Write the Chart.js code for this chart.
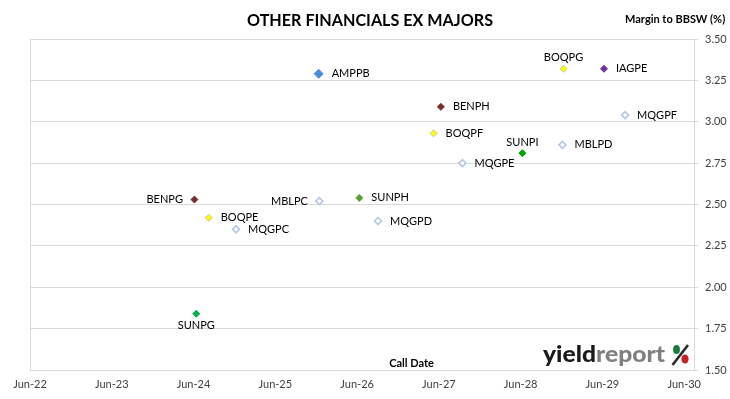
<!DOCTYPE html>
<html>
<head>
<meta charset="utf-8">
<script src="https://cdn.jsdelivr.net/npm/chart.js@4/dist/chart.umd.min.js"></script>
<style>
  html,body{margin:0;padding:0;background:#fff;}
  #wrap{width:730px;height:399px;position:relative;}
</style>
</head>
<body>
<div id="wrap"><canvas id="c" width="730" height="399"></canvas></div>
<script>
// ---- data ----
const securities = ['AMPPB','BENPG','BENPH','BOQPE','BOQPF','BOQPG','IAGPE','MBLPC','MBLPD','MQGPC','MQGPD','MQGPE','MQGPF','SUNPG','SUNPH','SUNPI'];
const callDates  = ['2025-12-12','2024-06-05','2027-06-10','2024-08-08','2027-05-08','2028-12-10','2029-06-08','2025-12-15','2028-12-05','2024-12-08','2026-09-03','2027-09-15','2029-09-11','2024-06-13','2026-06-11','2028-06-09'];
const margins    = [3.29, 2.53, 3.09, 2.42, 2.93, 3.32, 3.32, 2.52, 2.86, 2.35, 2.40, 2.75, 3.04, 1.84, 2.54, 2.81];
const xTickLabels = ['Jun-22','Jun-23','Jun-24','Jun-25','Jun-26','Jun-27','Jun-28','Jun-29','Jun-30'];
const yTickValues = [1.50, 1.75, 2.00, 2.25, 2.50, 2.75, 3.00, 3.25, 3.50];

// ---- styles ----
const FONT = 'Lato, "Open Sans", "Liberation Sans", sans-serif';
const markerStyle = {
  AMPPB:{bg:'#4f8ad8',bd:'#4f8ad8',r:4.5,bw:1},
  BENPG:{bg:'#76302c',bd:'#76302c',r:3.5,bw:1},
  BENPH:{bg:'#76302c',bd:'#76302c',r:3.5,bw:1},
  BOQPE:{bg:'#ffff00',bd:'#c8c88c',r:3.5,bw:1},
  BOQPF:{bg:'#ffff00',bd:'#c8c88c',r:3.5,bw:1},
  BOQPG:{bg:'#ffff00',bd:'#c8c88c',r:3.5,bw:1},
  IAGPE:{bg:'#7030a0',bd:'#7030a0',r:3.5,bw:1},
  MBLPC:{bg:'#ffffff',bd:'#b4c7e7',r:3.5,bw:1.6},
  MBLPD:{bg:'#ffffff',bd:'#b4c7e7',r:3.5,bw:1.6},
  MQGPC:{bg:'#ffffff',bd:'#b4c7e7',r:3.5,bw:1.6},
  MQGPD:{bg:'#ffffff',bd:'#b4c7e7',r:3.5,bw:1.6},
  MQGPE:{bg:'#ffffff',bd:'#b4c7e7',r:3.5,bw:1.6},
  MQGPF:{bg:'#ffffff',bd:'#b4c7e7',r:3.5,bw:1.6},
  SUNPG:{bg:'#00b050',bd:'#00b050',r:3.5,bw:1},
  SUNPH:{bg:'#5c9e3c',bd:'#5c9e3c',r:3.5,bw:1},
  SUNPI:{bg:'#00a000',bd:'#00a000',r:3.5,bw:1}
};
const labelPlacement = {BENPG:'left', MBLPC:'left', BOQPG:'above', SUNPI:'above', SUNPG:'below'};

// date string -> fractional year
function toYear(s){
  const [y,m,d] = s.split('-').map(Number);
  return y + (m-1)/12 + (d-1)/365;
}
function labelToYear(l){ // 'Jun-22' -> 2022 + 5/12
  return 2000 + Number(l.split('-')[1]) + 5/12;
}
const xTickValues = xTickLabels.map(labelToYear);
const xMin = xTickValues[0];
const xMax = xTickValues[xTickValues.length-1] + 0.12;

const points = securities.map((s,i)=>({x:toYear(callDates[i]), y:margins[i]}));

const decorPlugin = {
  id:'decor',
  afterDatasetsDraw(chart){
    const ctx = chart.ctx;
    const meta = chart.getDatasetMeta(0);
    ctx.save();
    ctx.fillStyle = '#000';
    ctx.font = '11px ' + FONT;
    meta.data.forEach((el,i)=>{
      const name = securities[i];
      const p = labelPlacement[name] || 'right';
      const r = markerStyle[name].r;
      let x = el.x, y = el.y;
      if(p==='right'){ ctx.textAlign='left'; ctx.textBaseline='middle'; x += r + 8.5; }
      else if(p==='left'){ ctx.textAlign='right'; ctx.textBaseline='middle'; x -= r + 8; }
      else if(p==='above'){ ctx.textAlign='center'; ctx.textBaseline='middle'; y -= 11; }
      else { ctx.textAlign='center'; ctx.textBaseline='middle'; y += 12; }
      ctx.fillText(name, x, y);
    });
    ctx.restore();
  },
  afterDraw(chart){
    const ctx = chart.ctx;
    ctx.save();
    // Title
    ctx.fillStyle = '#000';
    ctx.textAlign = 'center';
    ctx.textBaseline = 'alphabetic';
    ctx.font = 'bold 17px ' + FONT;
    ctx.fillText('OTHER FINANCIALS EX MAJORS', 370, 25.5, 246);
    // y-axis title
    ctx.textAlign = 'left';
    ctx.font = 'bold 11px ' + FONT;
    ctx.fillText('Margin to BBSW (%)', 625, 23, 102);
    // x-axis title
    ctx.textAlign = 'center';
    ctx.fillText('Call Date', 411.5, 366.5);
    ctx.restore();

    // logo: "yieldreport" squeezed to 122px wide
    ctx.save();
    ctx.font = '900 23px ' + FONT;
    ctx.textAlign = 'left';
    ctx.textBaseline = 'alphabetic';
    const wy = ctx.measureText('yield').width;
    const wAll = ctx.measureText('yieldreport').width;
    const sx = 122 / wAll;
    ctx.translate(543, 362);
    ctx.scale(sx, 1);
    ctx.fillStyle = '#1a1a1a';
    ctx.fillText('yield', 0, 0);
    ctx.fillStyle = '#808080';
    ctx.fillText('report', wy, 0);
    ctx.restore();

    // percent mark
    ctx.save();
    ctx.strokeStyle = '#2a2a2a';
    ctx.lineWidth = 2.6;
    ctx.lineCap = 'butt';
    ctx.beginPath(); ctx.moveTo(688, 345); ctx.lineTo(672.5, 365); ctx.stroke();
    ctx.fillStyle = '#1b7a3e';
    ctx.beginPath(); ctx.ellipse(676.5, 349.5, 3.4, 4.6, 0, 0, Math.PI*2); ctx.fill();
    ctx.fillStyle = '#c8202a';
    ctx.beginPath(); ctx.ellipse(685, 359, 3.6, 4.6, 0, 0, Math.PI*2); ctx.fill();
    ctx.restore();
  }
};

new Chart(document.getElementById('c'), {
  type:'scatter',
  data:{
    datasets:[{
      data: points,
      pointStyle:'rectRot',
      pointRadius: securities.map(s=>markerStyle[s].r),
      pointHoverRadius: securities.map(s=>markerStyle[s].r),
      pointBackgroundColor: securities.map(s=>markerStyle[s].bg),
      pointBorderColor: securities.map(s=>markerStyle[s].bd),
      pointBorderWidth: securities.map(s=>markerStyle[s].bw)
    }]
  },
  options:{
    responsive:false,
    animation:false,
    events:[],
    layout:{padding:{left:30, top:39, right:0, bottom:0}},
    plugins:{legend:{display:false}, tooltip:{enabled:false}, title:{display:false}},
    scales:{
      x:{
        type:'linear',
        min:xMin, max:xMax,
        afterBuildTicks(scale){ scale.ticks = xTickValues.map(v=>({value:v})); },
        afterFit(scale){ scale.height = 29; },
        ticks:{
          autoSkip:false, maxRotation:0,
          padding:8,
          color:'#404040',
          font:{family:FONT, size:11},
          callback:(v,i)=>xTickLabels[i]
        },
        grid:{
          drawTicks:false,
          color:(c)=> c.index===0 ? '#d9d9d9' : 'rgba(0,0,0,0)',
          lineWidth:1
        },
        border:{display:true, color:'#d9d9d9'}
      },
      y:{
        type:'linear',
        position:'right',
        min:1.5, max:3.5,
        afterBuildTicks(scale){ scale.ticks = yTickValues.map(v=>({value:v})); },
        afterFit(scale){ scale.width = 36; },
        ticks:{
          padding:7,
          color:'#404040',
          font:{family:FONT, size:11},
          callback:(v)=>Number(v).toFixed(2)
        },
        grid:{color:'#d9d9d9', lineWidth:1, tickLength:4, drawTicks:true},
        border:{display:true, color:'#d9d9d9'}
      }
    }
  },
  plugins:[decorPlugin]
});
</script>
</body>
</html>
